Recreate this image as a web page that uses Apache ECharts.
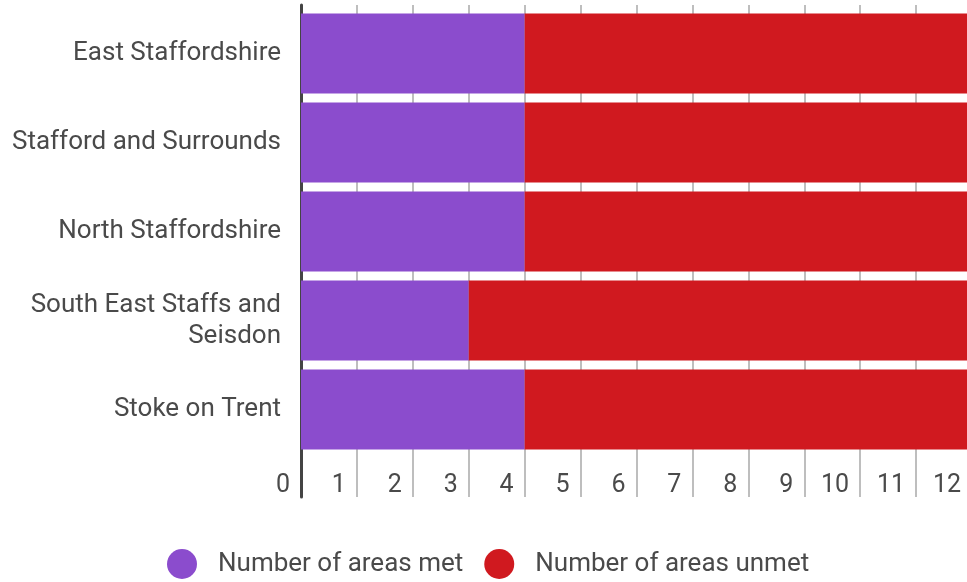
<!DOCTYPE html>
<html>
<head>
<meta charset="utf-8">
<script src="https://cdn.jsdelivr.net/npm/echarts@6/dist/echarts.min.js"></script>
<style>
  html, body { margin: 0; padding: 0; background: #fff; overflow: hidden; }
  /* the plot runs slightly past the right edge of the window */
  #chart { width: 976px; height: 582px; }
</style>
</head>
<body>
<div id="chart"></div>
<script>
// Service areas and how many standards each one met / did not meet
const regions = [
  'East Staffordshire',
  'Stafford and Surrounds',
  'North Staffordshire',
  'South East Staffs and\nSeisdon',
  'Stoke on Trent'
];
const areasMet = [4, 4, 4, 3, 4];
const areasUnmet = [8, 8, 8, 9, 8];
const seriesNames = ['Number of areas met', 'Number of areas unmet'];
const seriesColors = ['#8B4CCD', '#D0191F'];

const FONT = 'Roboto, "Noto Sans", sans-serif';
const TEXT = '#4a4a4a';

const chart = echarts.init(document.getElementById('chart'), null, { renderer: 'canvas' });

chart.setOption({
  animation: false,
  grid: [
    // bar area
    { left: 301, right: 4, top: 9, height: 445, containLabel: false },
    // frame holding the full-height gridlines and the left rule
    { left: 301, right: 4, top: 5, bottom: 85, containLabel: false }
  ],
  legend: {
    data: seriesNames,
    left: 167,
    top: 549,
    padding: 0,
    icon: 'circle',
    itemWidth: 62,
    itemHeight: 30,
    itemGap: 21,
    textStyle: { fontFamily: FONT, fontSize: 26, color: TEXT }
  },
  xAxis: [
    {
      type: 'value', gridIndex: 0, min: 0, max: 12, interval: 1,
      axisLine: { show: false },
      axisTick: { show: false },
      splitLine: { show: false },
      axisLabel: {
        fontFamily: FONT, fontSize: 25, color: TEXT,
        align: 'right', padding: [0, 11, 0, 0], margin: 19
      }
    },
    {
      type: 'value', gridIndex: 1, min: 0, max: 12, interval: 1,
      axisLine: { show: false },
      axisTick: { show: false },
      axisLabel: { show: false },
      splitLine: { show: true, lineStyle: { color: '#a8a8a8', width: 1.5 } }
    }
  ],
  yAxis: [
    {
      type: 'category', gridIndex: 0, inverse: true, data: regions,
      axisLine: { show: false },
      axisTick: { show: false },
      splitLine: { show: false },
      axisLabel: {
        fontFamily: FONT, fontSize: 26, color: TEXT, margin: 20,
        lineHeight: 31, align: 'right', padding: [7, 0, 0, 0]
      }
    },
    {
      type: 'value', gridIndex: 1, min: 0, max: 1,
      axisLine: { show: true, lineStyle: { color: '#444', width: 3 } },
      axisTick: { show: false },
      axisLabel: { show: false },
      splitLine: { show: false }
    }
  ],
  series: [
    {
      name: seriesNames[0], type: 'bar', stack: 'areas',
      xAxisIndex: 0, yAxisIndex: 0,
      data: areasMet, barCategoryGap: '10%',
      itemStyle: { color: seriesColors[0] }
    },
    {
      name: seriesNames[1], type: 'bar', stack: 'areas',
      xAxisIndex: 0, yAxisIndex: 0,
      data: areasUnmet, barCategoryGap: '10%',
      itemStyle: { color: seriesColors[1] }
    }
  ]
});
</script>
</body>
</html>
